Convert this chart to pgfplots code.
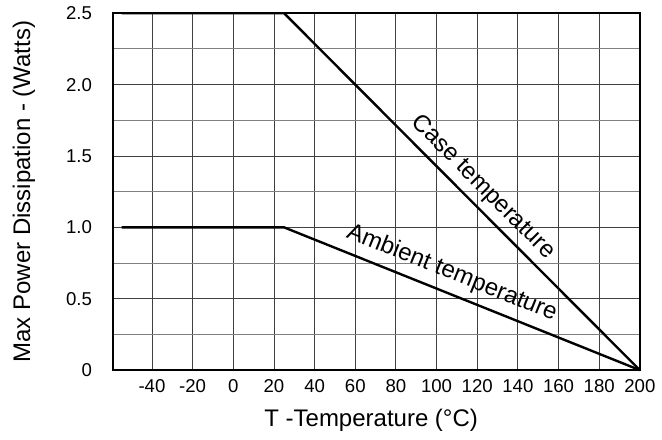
\documentclass[border=0pt]{standalone}
\usepackage{pgfplots}
\pgfplotsset{compat=1.18}
\usepackage{fontspec}
\setmainfont{Liberation Sans}

\begin{document}
\begin{tikzpicture}
\begin{axis}[
	scale only axis, width=263.5pt, height=178.5pt,
	xmin=-59.2, xmax=200, ymin=0, ymax=2.5,
	clip=false,
	xtick={-40,-20,...,200},
	ytick={0,0.5,...,2.5},
	yticklabels={0,0.5,1.0,1.5,2.0,2.5},
	minor ytick={0.25,0.75,...,2.25},
	grid=both,
	major grid style={black!75, line width=0.45pt},
	minor grid style={black!50, line width=0.45pt},
	axis line style={line width=1.1pt},
	tick style={draw=none},
	/pgf/number format/assume math mode=true,
	tick label style={font=\fontsize{9.3}{11}\selectfont},
	xticklabel style={yshift=-1pt},
	yticklabel style={xshift=-7pt},
	xlabel={T -Temperature (°C)},
	ylabel={Max Power Dissipation - (Watts)},
	label style={font=\fontsize{12}{14}\selectfont},
	xlabel style={at={(axis description cs:0.49,0)}, anchor=north, yshift=-16pt},
	ylabel style={at={(axis description cs:0,0.5)}, anchor=center, yshift=44.5pt},
]
\addplot[black, line width=1.2pt] coordinates {(-55,2.5) (25,2.5) (200,0)};
\addplot[black, line width=1.2pt] coordinates {(-55,1.0) (25,1.0) (200,0)};
\node[rotate=-45.1, font=\fontsize{12}{14}\selectfont] at (axis cs:122.8,1.28) {Case temperature};
\node[rotate=-21.9, font=\fontsize{12}{14}\selectfont] at (axis cs:107.5,0.68) {Ambient temperature};
\coordinate (sw) at (rel axis cs:0,0);
\coordinate (ne) at (rel axis cs:1,1);
\end{axis}
\path ([shift={(-56.5pt,-34.5pt)}]sw) rectangle ([shift={(11pt,6.5pt)}]ne);
\end{tikzpicture}
\end{document}
